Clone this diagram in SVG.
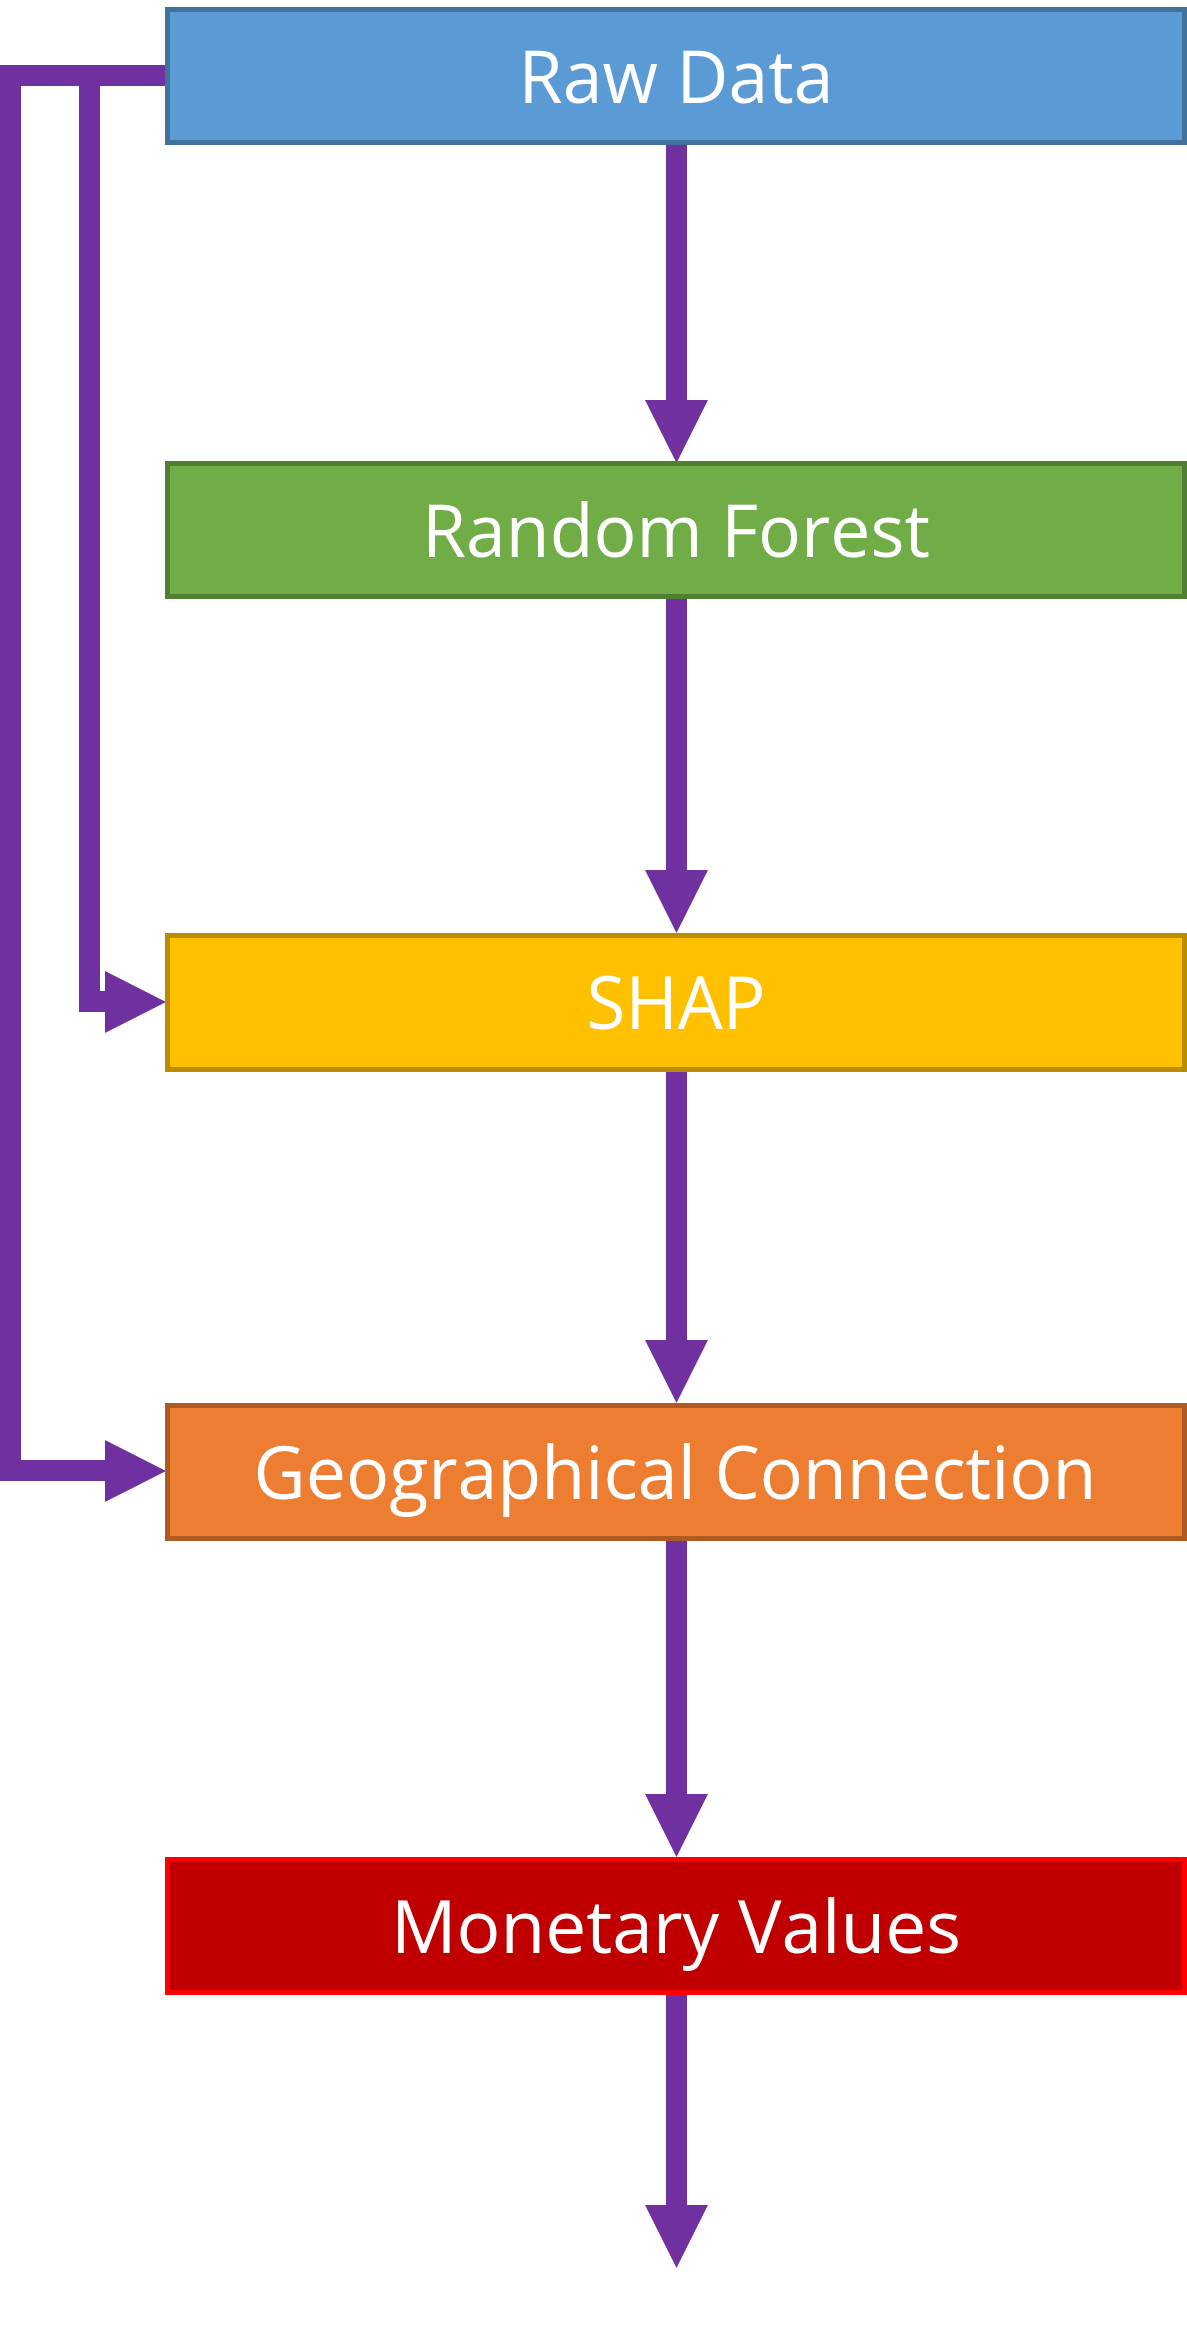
<svg xmlns="http://www.w3.org/2000/svg" width="1187" height="2332" viewBox="0 0 1187 2332">
<style>
.box{stroke-width:5}
.lbl{font-family:"Open Sans","Noto Sans","Liberation Sans",sans-serif;font-size:74px;fill:#FFFFFF;text-anchor:middle}
.conn{fill:none;stroke:#7030A0;stroke-width:21;stroke-linejoin:miter;stroke-linecap:butt}
.head{fill:#7030A0}
</style>
<rect width="1187" height="2332" fill="#FFFFFF"/>
<g id="connectors">
<polyline class="conn" points="172,75.5 10.5,75.5 10.5,1470.5 106,1470.5"/>
<polygon class="head" points="105,1440 166,1471 105,1502"/>
<polyline class="conn" points="89.5,75.5 89.5,1001.5 106,1001.5"/>
<polygon class="head" points="105,971 166,1002 105,1033"/>
<line class="conn" x1="676.5" y1="145" x2="676.5" y2="401"/>
<polygon class="head" points="645,400 708,400 676.5,463"/>
<line class="conn" x1="676.5" y1="599" x2="676.5" y2="871"/>
<polygon class="head" points="645,870 708,870 676.5,933"/>
<line class="conn" x1="676.5" y1="1072" x2="676.5" y2="1341"/>
<polygon class="head" points="645,1340 708,1340 676.5,1403"/>
<line class="conn" x1="676.5" y1="1541" x2="676.5" y2="1795"/>
<polygon class="head" points="645,1794 708,1794 676.5,1857"/>
<line class="conn" x1="676.5" y1="1995" x2="676.5" y2="2206"/>
<polygon class="head" points="645,2205 708,2205 676.5,2268"/>
</g>
<g id="raw-data">
<rect class="box" x="167.5" y="9.5" width="1017" height="133" fill="#5B9BD5" stroke="#41719C"/>
<text class="lbl" x="676" y="103" textLength="315" lengthAdjust="spacingAndGlyphs">Raw Data</text>
</g>
<g id="random-forest">
<rect class="box" x="167.5" y="463.5" width="1017" height="133" fill="#70AD47" stroke="#507E32"/>
<text class="lbl" x="676" y="557" textLength="508" lengthAdjust="spacingAndGlyphs">Random Forest</text>
</g>
<g id="shap">
<rect class="box" x="167.5" y="935.5" width="1017" height="134" fill="#FFC000" stroke="#BC8C00"/>
<text class="lbl" x="676" y="1029" textLength="179" lengthAdjust="spacingAndGlyphs">SHAP</text>
</g>
<g id="geographical-connection">
<rect class="box" x="167.5" y="1405.5" width="1017" height="133" fill="#ED7D31" stroke="#AE5A21"/>
<text class="lbl" x="675" y="1499" textLength="843" lengthAdjust="spacingAndGlyphs">Geographical Connection</text>
</g>
<g id="monetary-values">
<rect class="box" x="167.5" y="1859.5" width="1017" height="133" fill="#C00000" stroke="#FF0000"/>
<text class="lbl" x="676" y="1953" textLength="570" lengthAdjust="spacingAndGlyphs">Monetary Values</text>
</g>
</svg>
